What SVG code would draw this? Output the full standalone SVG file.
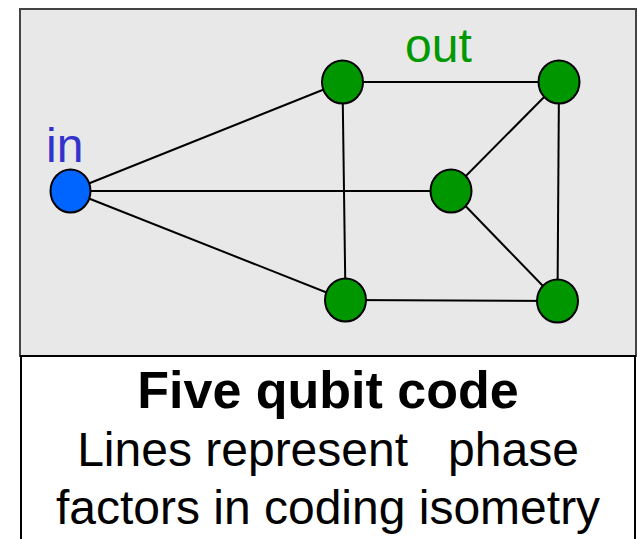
<svg xmlns="http://www.w3.org/2000/svg" width="638" height="539" viewBox="0 0 638 539">
<style>
.edge{stroke:#000;stroke-width:2;fill:none}
.g{fill:#009600;stroke:#000;stroke-width:2}
.b{fill:#0064ff;stroke:#000;stroke-width:2}
.t{font-family:"Liberation Sans",Arial,sans-serif}
</style>
<rect x="20" y="9" width="616" height="347" fill="#e8e8e8" stroke="#444" stroke-width="2"/>
<rect x="21" y="356" width="614" height="190" fill="#fff" stroke="#000" stroke-width="2"/>
<g id="connectors">
<line class="edge" x1="70" y1="191" x2="342.5" y2="82"/>
<line class="edge" x1="70" y1="191" x2="451" y2="191"/>
<line class="edge" x1="70" y1="191" x2="345.5" y2="300"/>
<line class="edge" x1="342.5" y1="82" x2="559" y2="82"/>
<line class="edge" x1="342.5" y1="82" x2="345.5" y2="300"/>
<line class="edge" x1="559" y1="82" x2="451" y2="191"/>
<line class="edge" x1="559" y1="82" x2="557.5" y2="301"/>
<line class="edge" x1="451" y1="191" x2="557.5" y2="301"/>
<line class="edge" x1="345.5" y1="300" x2="557.5" y2="301"/>
</g>
<g id="in"><ellipse class="b" cx="70.5" cy="191" rx="20" ry="21.5"/><text class="t" x="46" y="162" font-size="48" fill="#3333cc">in</text></g>
<g id="q1"><ellipse class="g" cx="342.5" cy="82" rx="20.5" ry="21.5"/></g>
<g id="q2"><ellipse class="g" cx="559" cy="82" rx="20.5" ry="21.5"/><text class="t" x="405" y="62" font-size="48" fill="#009900">out</text></g>
<g id="q3"><ellipse class="g" cx="451" cy="191" rx="20.5" ry="21.5"/></g>
<g id="q4"><ellipse class="g" cx="345.5" cy="300" rx="20.5" ry="21.5"/></g>
<g id="q5"><ellipse class="g" cx="557.5" cy="301" rx="20.5" ry="21.5"/></g>
<g id="caption" class="t" text-anchor="middle" fill="#000">
<text x="328" y="408" font-size="52" font-weight="bold">Five qubit code</text>
<text x="328" y="466" font-size="48" xml:space="preserve">Lines represent   phase</text>
<text x="328" y="524" font-size="48">factors in coding isometry</text>
</g>
</svg>
